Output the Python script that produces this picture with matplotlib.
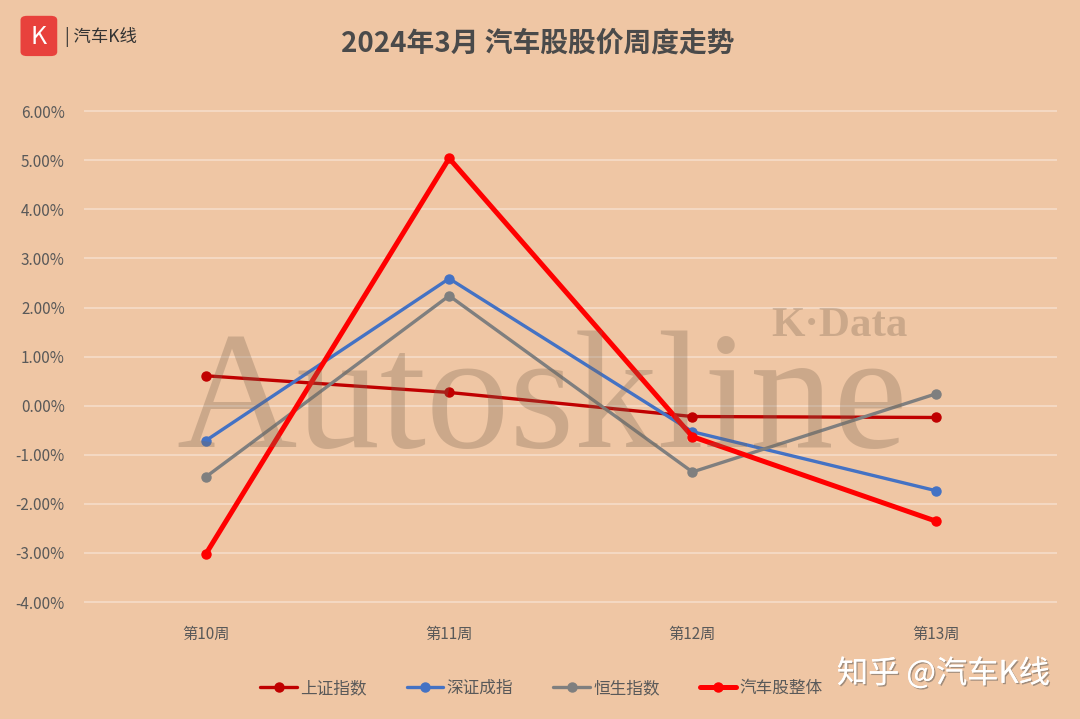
import matplotlib
matplotlib.use('Agg')
import matplotlib.pyplot as plt
from matplotlib.patches import FancyBboxPatch
import matplotlib.patheffects as pe

plt.rcParams['font.family'] = ['Noto Sans CJK SC', 'DejaVu Sans']

# 数据
weeks = ['第10周', '第11周', '第12周', '第13周']
shangzheng = [0.61, 0.27, -0.22, -0.24]
shenzheng = [-0.71, 2.59, -0.53, -1.73]
hengsheng = [-1.45, 2.24, -1.35, 0.24]
auto_all = [-3.02, 5.04, -0.63, -2.35]
yticks = [-4, -3, -2, -1, 0, 1, 2, 3, 4, 5, 6]

series = [
    ('上证指数', shangzheng, '#C00000', 2.4),
    ('深证成指', shenzheng, '#4472C4', 2.4),
    ('恒生指数', hengsheng, '#7F7F7F', 2.4),
    ('汽车股整体', auto_all, '#FF0000', 3.6),
]

bg = '#EFC6A4'
fig = plt.figure(figsize=(10.8, 7.19), dpi=100, facecolor=bg)
ax = fig.add_axes([0.078, 0.149, 0.901, 0.710])
ax.set_facecolor(bg)

x = range(len(weeks))
for name, vals, color, lw in series:
    ax.plot(x, vals, color=color, lw=lw, marker='o', markersize=6.5,
            label=name, solid_capstyle='round', zorder=3)

ax.set_xlim(-0.5, 3.5)
ax.set_ylim(-4.2, 6.2)
ax.set_yticks(yticks)
ax.set_yticklabels(['{:.2f}%'.format(v) for v in yticks], color='#595959', fontsize=11)
ax.set_xticks(list(x))
ax.set_xticklabels(weeks, color='#595959', fontsize=11)
ax.tick_params(length=0)
ax.tick_params(axis='x', pad=10)
ax.tick_params(axis='y', pad=14)
ax.grid(axis='y', color='#F6DCC9', lw=1.2)
ax.set_axisbelow(True)
for s in ax.spines.values():
    s.set_visible(False)

# 水印
fig.text(0.163, 0.378, 'Autoskline', fontsize=120, family='Liberation Serif',
         color='#7A6550', alpha=0.3, va='baseline', ha='left')
fig.text(0.714, 0.532, 'K·Data', fontsize=31, family='Liberation Serif', weight='bold',
         color='#7A6550', alpha=0.3, va='baseline', ha='left')

fig.text(0.498, 0.939, '2024年3月 汽车股股价周度走势', ha='center', va='center',
         fontsize=20, weight='bold', color='#4A4A4A')

# 左上角标志
logo = FancyBboxPatch((0.019, 0.922), 0.034, 0.056, boxstyle='round,pad=0,rounding_size=0.006',
                      transform=fig.transFigure, facecolor='#E8413C', edgecolor='none')
fig.patches.append(logo)
fig.text(0.036, 0.949, 'K', ha='center', va='center', fontsize=18, color='white')
fig.text(0.06, 0.949, '| 汽车K线', ha='left', va='center', fontsize=12.5, color='#333333')

leg = ax.legend(loc='center', bbox_to_anchor=(0.47, -0.15), ncol=4, frameon=False,
                fontsize=12, handlelength=2.2, handletextpad=0.2, columnspacing=2.4)
for t in leg.get_texts():
    t.set_color('#595959')

fig.text(0.972, 0.063, '知乎 @汽车K线', ha='right', va='center', fontsize=22.5, color='white',
         path_effects=[pe.withSimplePatchShadow(offset=(1, -1), shadow_rgbFace='#555555', alpha=0.5),
                       pe.Normal()])

plt.savefig('out.png', facecolor=bg)
